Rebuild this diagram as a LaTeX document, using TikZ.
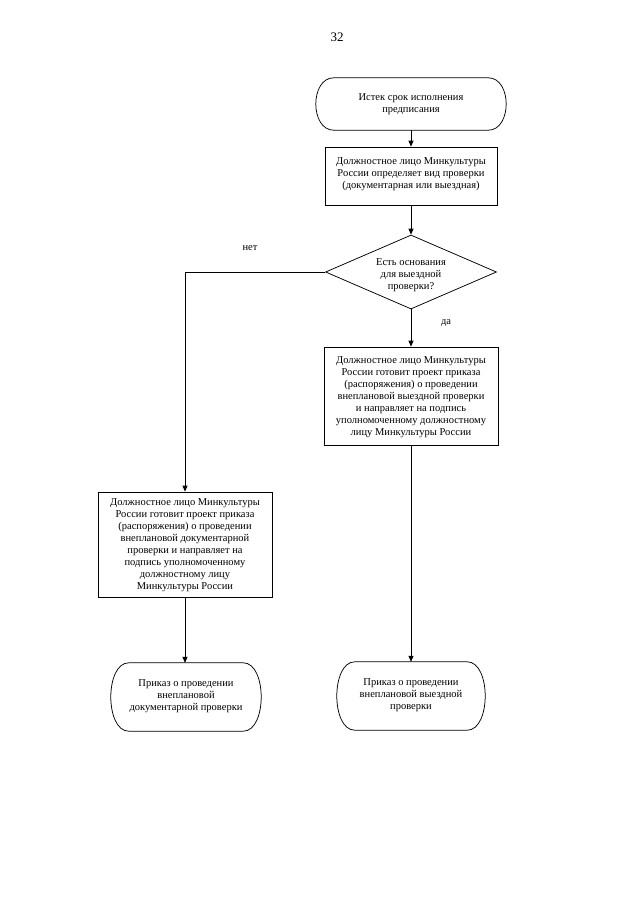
\documentclass[tikz,border=0pt]{standalone}
\usepackage{fontspec}
\setmainfont{Liberation Serif}
\usetikzlibrary{shapes.geometric,arrows.meta,calc}
\newcommand{\termoutline}[2]{% node name, end depth
  \draw[line width=0.75pt]
    ($(#1.north west)+(#2,0)$) -- ($(#1.north east)+(-#2,0)$)
    .. controls ($(#1.north east)+(#2/3,0)$) and ($(#1.south east)+(#2/3,0)$) .. ($(#1.south east)+(-#2,0)$)
    -- ($(#1.south west)+(#2,0)$)
    .. controls ($(#1.south west)+(-#2/3,0)$) and ($(#1.north west)+(-#2/3,0)$) .. cycle;}
\begin{document}
\begin{tikzpicture}[x=1pt,y=-1pt,
  every node/.style={font=\fontsize{10.5}{12}\selectfont, align=center},
  proc/.style={draw, line width=0.75pt, rectangle, inner sep=0pt},
  term/.style={rectangle, inner sep=0pt},
  decis/.style={draw, line width=0.75pt, diamond, inner sep=0pt},
  conn/.style={line width=0.75pt},
  arr/.style={conn, -{Triangle[length=6pt,width=5pt]}},
  lbl/.style={font=\fontsize{10.5}{12}\selectfont}
]
\useasboundingbox (0,0) rectangle (640,905);
\fill[white] (0,0) rectangle (640,905);

\node[font=\fontsize{13}{14}\selectfont] (pg) at (337,37) {32};

\node[term, minimum width=190, minimum height=52] (t1) at (411,104) {};
\termoutline{t1}{18}
\node (t1txt) at (411,104) {Истек срок исполнения\\предписания};

\node[proc, minimum width=172, minimum height=58] (r1) at (411,176) {};
\node (r1txt) at (411,174) {Должностное лицо Минкультуры\\России определяет вид проверки\\(документарная или выездная)};

\node[decis, minimum width=171, minimum height=74] (d) at (411,272) {};
\node (dtxt) at (411,275) {Есть основания\\для выездной\\проверки?};

\node[lbl] (no) at (250,248) {нет};
\node[lbl] (yes) at (446,323) {да};

\node[proc, minimum width=174, minimum height=98] (r2) at (411,396) {};
\node (r2txt) at (411,397) {Должностное лицо Минкультуры\\России готовит проект приказа\\(распоряжения) о проведении\\внеплановой выездной проверки\\и направляет на подпись\\уполномоченному должностному\\лицу Минкультуры России};

\node[proc, minimum width=174, minimum height=105] (r3) at (185,544.5) {};
\node (r3txt) at (185,545) {Должностное лицо Минкультуры\\России готовит проект приказа\\(распоряжения) о проведении\\внеплановой документарной\\проверки и направляет на\\подпись уполномоченному\\должностному лицу\\Минкультуры России};

\node[term, minimum width=150, minimum height=68] (t2) at (186,697) {};
\termoutline{t2}{18}
\node (t2txt) at (186,696) {Приказ о проведении\\внеплановой\\документарной проверки};

\node[term, minimum width=148, minimum height=68] (t3) at (411,696) {};
\termoutline{t3}{18}
\node (t3txt) at (411,695) {Приказ о проведении\\внеплановой выездной\\проверки};

\coordinate (bend) at (185,272);

\draw[arr] (t1.south) -- (r1.north);
\draw[arr] (r1.south) -- (d.north);
\draw[arr] (d.south) -- (r2.north);
\draw[arr] (r2.south) -- (t3.north);
\draw[conn] (d.west) -- (bend);
\draw[arr] (bend) -- (r3.north);
\draw[arr] (r3.south) -- (r3.south |- t2.north);
\end{tikzpicture}
\end{document}
